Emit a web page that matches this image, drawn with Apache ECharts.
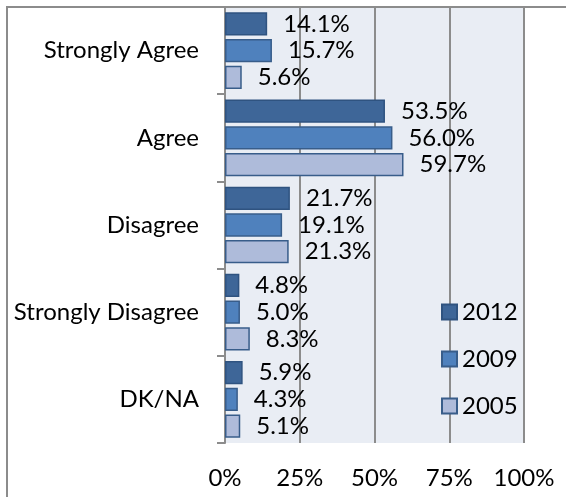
<!DOCTYPE html>
<html lang="en">
<head>
    <meta charset="UTF-8">
    <title>Survey responses by year</title>
    <script src="https://cdn.jsdelivr.net/npm/echarts@6/dist/echarts.min.js"></script>
    <style>
        html, body { margin: 0; padding: 0; background: #fff; }
        #chart { width: 566px; height: 497px; }
    </style>
</head>
<body>
<div id="chart"></div>
<script>
    // data
    const categories = ['Strongly Agree', 'Agree', 'Disagree', 'Strongly Disagree', 'DK/NA'];
    const years = ['2012', '2009', '2005'];
    const values2012 = [14.1, 53.5, 21.7, 4.8, 5.9];
    const values2009 = [15.7, 56.0, 19.1, 5.0, 4.3];
    const values2005 = [5.6, 59.7, 21.3, 8.3, 5.1];
    const xTicks = [0, 25, 50, 75, 100];

    const fontFamily = 'Lato, "Open Sans", sans-serif';
    const fontSize = 24;
    const fills = ['#3e6698', '#4f81bd', '#aebbda'];
    const borders = ['#2f5380', '#385d8a', '#385d8a'];
    const seriesValues = [values2012, values2009, values2005];

    const chart = echarts.init(document.getElementById('chart'));
    chart.setOption({
        animation: false,
        graphic: [{
            type: 'polyline',
            shape: { points: [[7, 497], [7, 7], [566, 7]] },
            style: { stroke: '#8c8c8c', lineWidth: 2, fill: null },
            z: 10
        }],
        grid: {
            left: 225, right: 42, top: 7, bottom: 54,
            show: true, backgroundColor: '#e9edf4', borderWidth: 0
        },
        legend: {
            data: years,
            orient: 'vertical',
            left: 436, top: 295,
            itemWidth: 15, itemHeight: 15, itemGap: 23,
            textStyle: { fontFamily, fontSize, color: '#000' },
            icon: 'rect'
        },
        xAxis: {
            type: 'value',
            min: xTicks[0], max: xTicks[xTicks.length - 1], interval: 25,
            axisLine: { show: false },
            axisTick: { show: false },
            splitLine: { show: true, lineStyle: { color: '#8c8c8c', width: 2 } },
            axisLabel: {
                margin: 23, fontFamily, fontSize, color: '#000',
                formatter: v => v + '%'
            }
        },
        yAxis: {
            type: 'category',
            data: categories,
            inverse: true,
            axisLine: { show: true, lineStyle: { color: '#8c8c8c', width: 2 } },
            axisTick: { show: true, length: 8, lineStyle: { color: '#8c8c8c', width: 2 } },
            axisLabel: { margin: 26, fontFamily, fontSize, color: '#000' }
        },
        series: years.map((year, i) => ({
            name: year,
            type: 'bar',
            data: seriesValues[i],
            barCategoryGap: '12%',
            barGap: '15%',
            itemStyle: { color: fills[i], borderColor: borders[i], borderWidth: 1.5 },
            label: {
                show: true, position: 'right', distance: 16,
                fontFamily, fontSize, color: '#000',
                formatter: p => p.value.toFixed(1) + '%'
            }
        }))
    });
</script>
</body>
</html>
